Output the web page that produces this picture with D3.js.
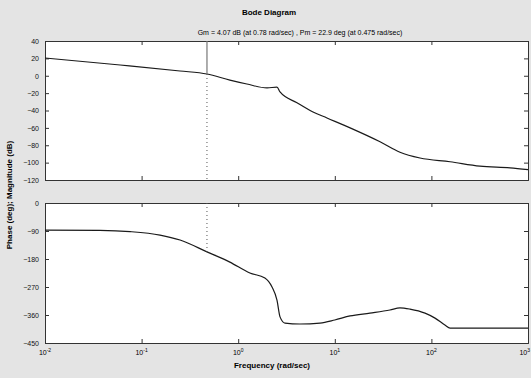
<!DOCTYPE html>
<html>
<head>
<meta charset="utf-8">
<script src="https://cdn.jsdelivr.net/npm/d3@7"></script>
<style>
  body { margin: 0; background: #e4e4e4; }
  text { font-family: "Liberation Sans", Arial, sans-serif; }
</style>
</head>
<body>
<div class="chart"></div>
<script>

// Magnitude response (rad/sec, dB)
var magFreq = [0.01, 0.06, 0.25, 0.475, 0.82, 1.23, 1.99, 2.52, 2.71, 4.06, 5.95, 8.3, 14.4, 29.4, 47.3, 76.2, 156, 318, 651, 1000];
var magDb   = [20.4, 12.4, 5.5, 2, -5, -9.5, -14, -13, -18.7, -31, -41.7, -48.6, -60, -76, -88, -94.7, -99, -104, -106, -108];

// Phase response (rad/sec, deg)
var phaseFreq = [0.01, 0.037, 0.076, 0.155, 0.25, 0.475, 0.82, 1.32, 1.89, 2.24, 2.52, 2.71, 3.05, 4.36, 7.03, 10, 14.4, 23.1, 37.2, 47.3, 60, 85.9, 109, 138, 156, 1000];
var phaseDeg  = [-87, -88, -92, -103, -119, -157, -190, -225, -241, -270, -312, -366, -386, -389, -386, -376, -363, -354, -344, -337, -341, -354, -370, -392, -402, -402];

// Axis ticks
var freqTicks  = [0.01, 0.1, 1, 10, 100, 1000];
var magTicks   = [40, 20, 0, -20, -40, -60, -80, -100, -120];
var phaseTicks = [0, -90, -180, -270, -360, -450];

// Margin marker
var pmFreq = 0.475;
var titleText = "Bode Diagram";
var subTitle = "Gm = 4.07 dB (at 0.78 rad/sec) ,  Pm = 22.9 deg (at 0.475 rad/sec)";

var width = 531, height = 378;
var left = 45, right = 528;
var magTop = 41, magBottom = 180;
var phTop = 203, phBottom = 343;

var svg = d3.select(".chart")
  .append("svg")
    .attr("width", width)
    .attr("height", height);

svg.append("rect")
  .attr("width", width)
  .attr("height", height)
  .style("fill", "#e4e4e4");

// Scales
var x = d3.scaleLog().domain([0.01, 1000]).range([left, right]);
var yMag = d3.scaleLinear().domain([-120, 40]).range([magBottom, magTop]);
var yPh = d3.scaleLinear().domain([-450, 0]).range([phBottom, phTop]);

function panel(y, top, bottom, ticks, values, freqs) {

    // White plotting area
    svg.append("rect")
      .attr("x", left)
      .attr("y", top)
      .attr("width", right - left)
      .attr("height", bottom - top)
      .style("fill", "#fff");

    var yAxis = d3.axisLeft(y).tickValues(ticks).tickSize(-4).tickPadding(6).tickFormat(d3.format("d"));
    var yAxisR = d3.axisRight(y).tickValues(ticks).tickSize(-4).tickFormat("");
    var xAxis = d3.axisBottom(x).tickValues(freqTicks).tickSize(-4).tickFormat("");
    var xAxisT = d3.axisTop(x).tickValues(freqTicks).tickSize(-4).tickFormat("");

    svg.append("g").attr("class", "axis").attr("transform", "translate(" + left + ",0)").call(yAxis);
    svg.append("g").attr("class", "axis").attr("transform", "translate(" + right + ",0)").call(yAxisR);
    svg.append("g").attr("class", "axis").attr("transform", "translate(0," + bottom + ")").call(xAxis);
    svg.append("g").attr("class", "axis").attr("transform", "translate(0," + top + ")").call(xAxisT);

    var line = d3.line()
      .x(function(d, i) { return x(freqs[i]); })
      .y(function(d) { return y(d); })
      .curve(d3.curveMonotoneX);

    svg.append("path")
      .datum(values)
      .attr("d", line)
      .style("fill", "none")
      .style("stroke", "#1a1a1a")
      .style("stroke-width", 1.2);
}

panel(yMag, magTop, magBottom, magTicks, magDb, magFreq);
panel(yPh, phTop, phBottom, phaseTicks, phaseDeg, phaseFreq);

// Bottom decade labels (last one kept inside the window)
var fmtExp = { 0.01: "-2", 0.1: "-1", 1: "0", 10: "1", 100: "2", 1000: "3" };
var xl = svg.append("g");
freqTicks.forEach(function(f, i) {
    var last = i == freqTicks.length - 1;
    var t = xl.append("text")
      .attr("x", last ? x(f) + 2 : x(f))
      .attr("y", phBottom + 12)
      .attr("text-anchor", last ? "end" : "middle")
      .style("font-size", "7px")
      .text("10");
    t.append("tspan").attr("dy", -3).style("font-size", "5px").text(fmtExp[f]);
});

svg.selectAll(".axis path").style("stroke", "#333").style("stroke-width", 1);
svg.selectAll(".axis line").style("stroke", "#333");
svg.selectAll(".axis text").style("font-size", "7px").style("fill", "#111");

// Crossover marker
var magAt = d3.scaleLog().domain(magFreq).range(magDb)(pmFreq);
var phAt = d3.scaleLog().domain(phaseFreq).range(phaseDeg)(pmFreq);

svg.append("line")
  .attr("x1", x(pmFreq)).attr("x2", x(pmFreq))
  .attr("y1", magTop).attr("y2", yMag(magAt))
  .style("stroke", "#777").style("stroke-width", 1.2);

svg.append("line")
  .attr("x1", x(pmFreq)).attr("x2", x(pmFreq))
  .attr("y1", yMag(magAt)).attr("y2", magBottom)
  .style("stroke", "#555").style("stroke-dasharray", "1,3");

svg.append("line")
  .attr("x1", x(pmFreq)).attr("x2", x(pmFreq))
  .attr("y1", phTop).attr("y2", yPh(phAt))
  .style("stroke", "#555").style("stroke-dasharray", "1,3");

// Titles
svg.append("text")
  .attr("x", 269).attr("y", 15)
  .attr("text-anchor", "middle")
  .style("font-size", "8px").style("font-weight", "bold")
  .text(titleText);

svg.append("text")
  .attr("x", 300).attr("y", 35)
  .attr("text-anchor", "middle")
  .style("font-size", "7px")
  .text(subTitle);

svg.append("text")
  .attr("x", 272).attr("y", 368)
  .attr("text-anchor", "middle")
  .style("font-size", "8px").style("font-weight", "bold")
  .text("Frequency (rad/sec)");

svg.append("text")
  .attr("transform", "translate(12,195) rotate(-90)")
  .attr("text-anchor", "middle")
  .style("font-size", "8px").style("font-weight", "bold")
  .text("Phase (deg); Magnitude (dB)");

</script>
</body>
</html>
